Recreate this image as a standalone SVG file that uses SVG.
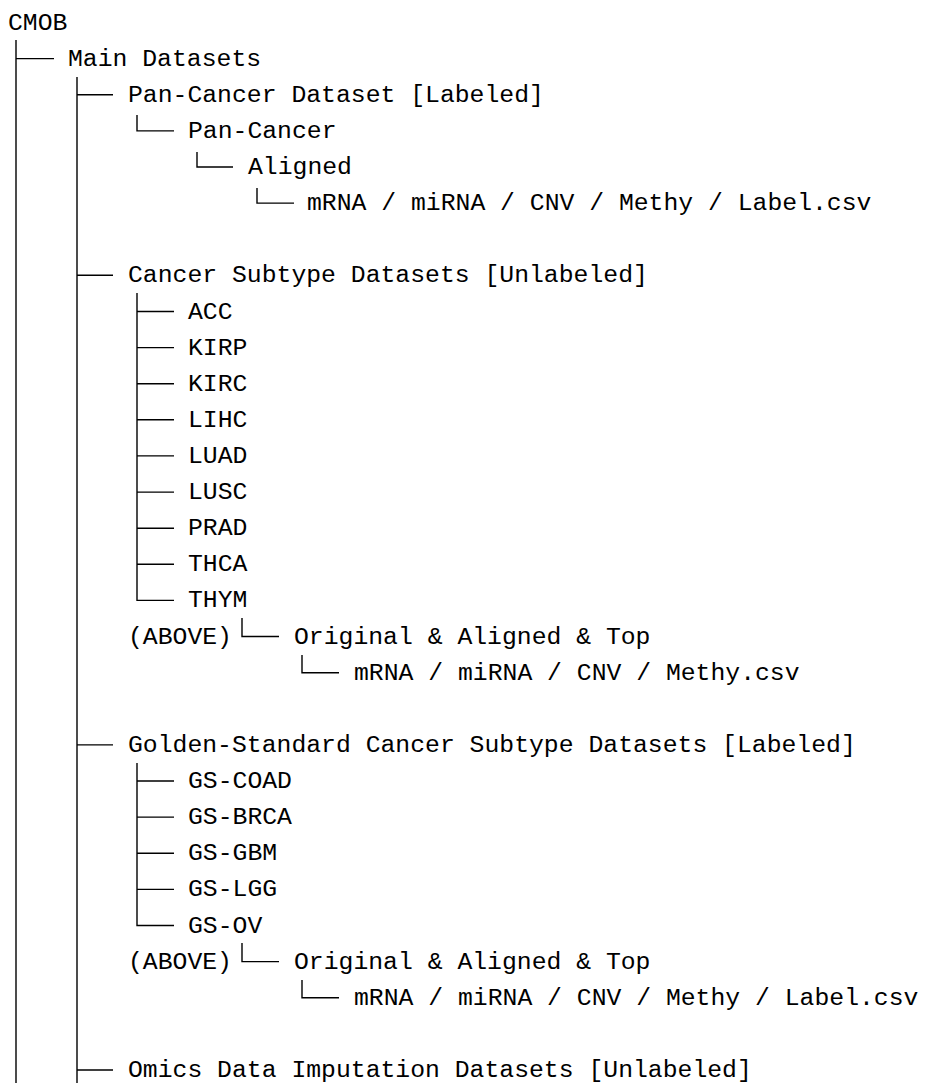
<svg xmlns="http://www.w3.org/2000/svg" width="928" height="1083" viewBox="0 0 928 1083">
<style>
text{font-family:"Liberation Mono","DejaVu Sans Mono",monospace;font-size:24.75px;fill:#000}
.c path{stroke:#000;stroke-width:1.4;fill:none}
</style>
<rect width="928" height="1083" fill="#fff"/>
<g class="c" id="connectors">
<path d="M16 40V1083M16 58.6H54"/>
<path d="M77 77V1083M77 94.7H113M77 275.3H113M77 744.9H113M77 1070H113"/>
<path d="M137 115V130.9H174"/>
<path d="M197 152V167H233"/>
<path d="M257 188V203.1H294"/>
<path d="M137 293V600.4H174M137 311.5H174M137 347.6H174M137 383.7H174M137 419.8H174M137 455.9H174M137 492.1H174M137 528.2H174M137 564.3H174"/>
<path d="M242 618V636.5H279"/>
<path d="M302 655V672.7H339"/>
<path d="M137 763V925.5H174M137 781H174M137 817.1H174M137 853.3H174M137 889.4H174"/>
<path d="M242 943V961.6H279"/>
<path d="M302 980V997.7H339"/>
</g>
<g id="n-cmob"><text x="8" y="29.5">CMOB</text></g>
<g id="n-main"><text x="68" y="65.6">Main Datasets</text></g>
<g id="n-pan"><text x="128" y="101.7">Pan-Cancer Dataset [Labeled]</text></g>
<g id="n-pan2"><text x="188" y="137.9">Pan-Cancer</text></g>
<g id="n-aligned"><text x="248" y="174">Aligned</text></g>
<g id="n-pan-files"><text x="307" y="210.1">mRNA / miRNA / CNV / Methy / Label.csv</text></g>
<g id="n-subtype"><text x="128" y="282.3">Cancer Subtype Datasets [Unlabeled]</text></g>
<g id="n-acc"><text x="188" y="318.5">ACC</text></g>
<g id="n-kirp"><text x="188" y="354.6">KIRP</text></g>
<g id="n-kirc"><text x="188" y="390.7">KIRC</text></g>
<g id="n-lihc"><text x="188" y="426.8">LIHC</text></g>
<g id="n-luad"><text x="188" y="462.9">LUAD</text></g>
<g id="n-lusc"><text x="188" y="499.1">LUSC</text></g>
<g id="n-prad"><text x="188" y="535.2">PRAD</text></g>
<g id="n-thca"><text x="188" y="571.3">THCA</text></g>
<g id="n-thym"><text x="188" y="607.4">THYM</text></g>
<g id="n-above1"><text x="128" y="643.5">(ABOVE)</text></g>
<g id="n-orig1"><text x="294" y="643.5">Original &amp; Aligned &amp; Top</text></g>
<g id="n-files1"><text x="354" y="679.7">mRNA / miRNA / CNV / Methy.csv</text></g>
<g id="n-gs"><text x="128" y="751.9">Golden-Standard Cancer Subtype Datasets [Labeled]</text></g>
<g id="n-coad"><text x="188" y="788">GS-COAD</text></g>
<g id="n-brca"><text x="188" y="824.1">GS-BRCA</text></g>
<g id="n-gbm"><text x="188" y="860.3">GS-GBM</text></g>
<g id="n-lgg"><text x="188" y="896.4">GS-LGG</text></g>
<g id="n-ov"><text x="188" y="932.5">GS-OV</text></g>
<g id="n-above2"><text x="128" y="968.6">(ABOVE)</text></g>
<g id="n-orig2"><text x="294" y="968.6">Original &amp; Aligned &amp; Top</text></g>
<g id="n-files2"><text x="354" y="1004.7">mRNA / miRNA / CNV / Methy / Label.csv</text></g>
<g id="n-omics"><text x="128" y="1077">Omics Data Imputation Datasets [Unlabeled]</text></g>
</svg>
